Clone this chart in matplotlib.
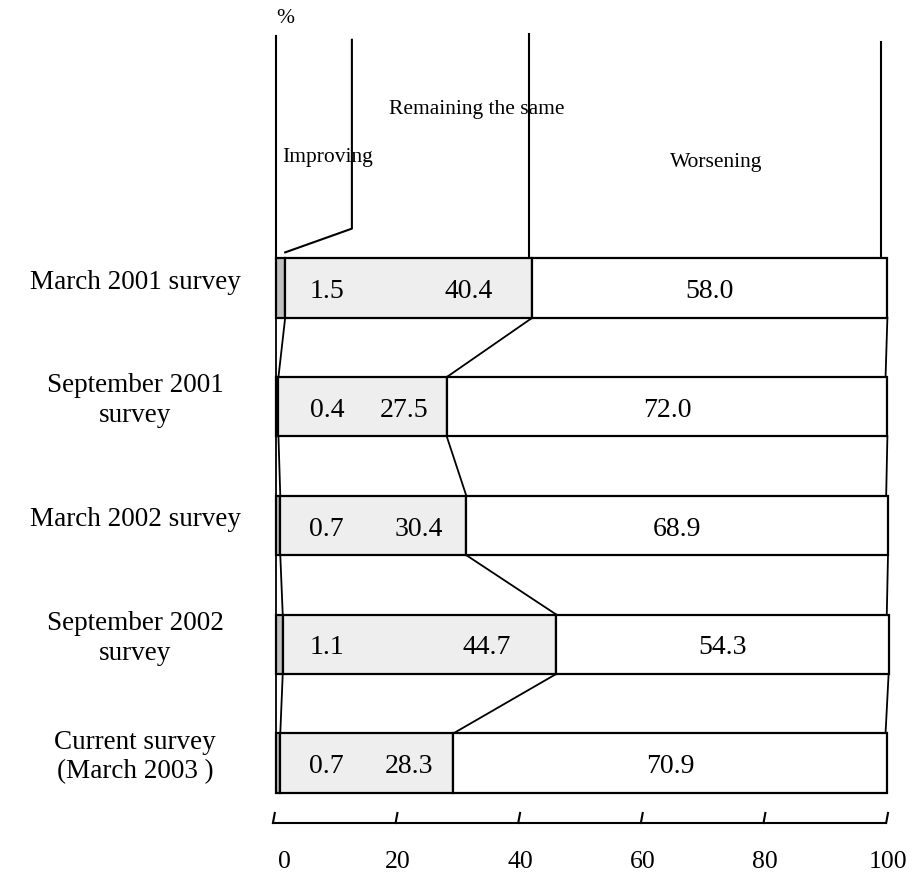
import matplotlib
matplotlib.use("Agg")
import matplotlib.pyplot as plt
import numpy as np

plt.rcParams['font.family'] = ['Liberation Serif', 'DejaVu Serif']

categories = ["March 2001 survey", "September 2001\nsurvey", "March 2002 survey",
              "September 2002\nsurvey", "Current survey\n(March 2003 )"]
improving = [1.5, 0.4, 0.7, 1.1, 0.7]
remaining = [40.4, 27.5, 30.4, 44.7, 28.3]
worsening = [58.0, 72.0, 68.9, 54.3, 70.9]
series_names = ["Improving", "Remaining the same", "Worsening"]
xticks = [0, 20, 40, 60, 80, 100]

W, H = 923, 881
fig = plt.figure(figsize=(W / 100, H / 100), dpi=100)
# axes: x 0..100 maps to pixel 276..888
left_px, right_px = 276, 888
ax = fig.add_axes([left_px / W, 0, (right_px - left_px) / W, 1])
px_per_unit_y = 118.75
c0 = 288
ax.set_xlim(0, 100)
ax.set_ylim((H - c0) / px_per_unit_y, -c0 / px_per_unit_y)
ax.axis('off')

imp = np.array(improving)
rem = np.array(remaining)
wor = np.array(worsening)
y = np.arange(len(categories))
h = 0.5
lw = 1.6

for vals, lefts, col in ((imp, 0, '#c0c0c0'), (rem, imp, '#eeeeee'), (wor, imp + rem, 'white')):
    bars = ax.barh(y, vals, height=h, left=lefts, color=col, edgecolor='black', linewidth=lw, zorder=3)
    for b in bars:
        b.set_clip_on(False)

cum1 = imp
cum2 = imp + rem
cum3 = imp + rem + wor

# connecting lines between bars
for i in range(len(categories) - 1):
    yb = y[i] + h / 2
    yt = y[i + 1] - h / 2
    for cum in (np.zeros_like(cum1), cum1, cum2):
        ax.plot([cum[i], cum[i + 1]], [yb, yt], color='black', lw=1.3, zorder=2, clip_on=False)
    ax.plot([cum3[i], cum3[i + 1] - 0.3], [yb, yt], color='black', lw=1.3, zorder=2, clip_on=False)

# leader lines above first bar
top = y[0] - h / 2
ltop = -2.12
ax.plot([0, 0], [ltop, top], color='black', lw=1.5, clip_on=False)
imp_x = 12.4
ax.plot([imp_x, imp_x, cum1[0]], [ltop + 0.03, -0.5, top - 0.05], color='black', lw=1.5, clip_on=False)
ax.plot([cum2[0] - 0.6, cum2[0] - 0.6], [ltop - 0.02, top], color='black', lw=1.5, clip_on=False)
ax.plot([cum3[0] - 1, cum3[0] - 1], [ltop + 0.05, top], color='black', lw=1.5, clip_on=False)

ax.text(1.0, -1.10, series_names[0], fontsize=15.5, ha='left', va='center')
ax.text(18.5, -1.50, series_names[1], fontsize=15.5, ha='left', va='center')
ax.text(64.4, -1.06, series_names[2], fontsize=15.5, ha='left', va='center')
ax.text(1.5, -2.27, "%", fontsize=15.5, ha='center', va='center')

# value labels
fs = 20
for i in range(len(categories)):
    yc = y[i] + 0.03
    ax.text(8.3, yc, f"{improving[i]:.1f}", fontsize=fs, ha='center', va='center', zorder=5)
    ax.text(cum2[i] * 0.75, yc, f"{remaining[i]:.1f}", fontsize=fs, ha='center', va='center', zorder=5)
    ax.text(cum2[i] + wor[i] / 2, yc, f"{worsening[i]:.1f}", fontsize=fs, ha='center', va='center', zorder=5)
    ax.text(-23.0, y[i] - 0.05, categories[i], fontsize=19.5, ha='center', va='center',
            linespacing=1.25, clip_on=False)

# custom axis
ya = (823 - c0) / px_per_unit_y
tick_len = 10 / px_per_unit_y
ax.plot([-0.5, 99.5], [ya, ya], color='black', lw=1.5, clip_on=False)
for t in xticks:
    tx = t - 0.5 + t * 0.002
    ax.plot([tx, tx + 0.3], [ya, ya - tick_len], color='black', lw=1.5, clip_on=False)
    ax.text(tx + (1.8 if t == 0 else 0.3), (862 - c0) / px_per_unit_y, str(t), fontsize=18.5,
            ha='center', va='center', clip_on=False)

fig.savefig("out.png", dpi=100)
